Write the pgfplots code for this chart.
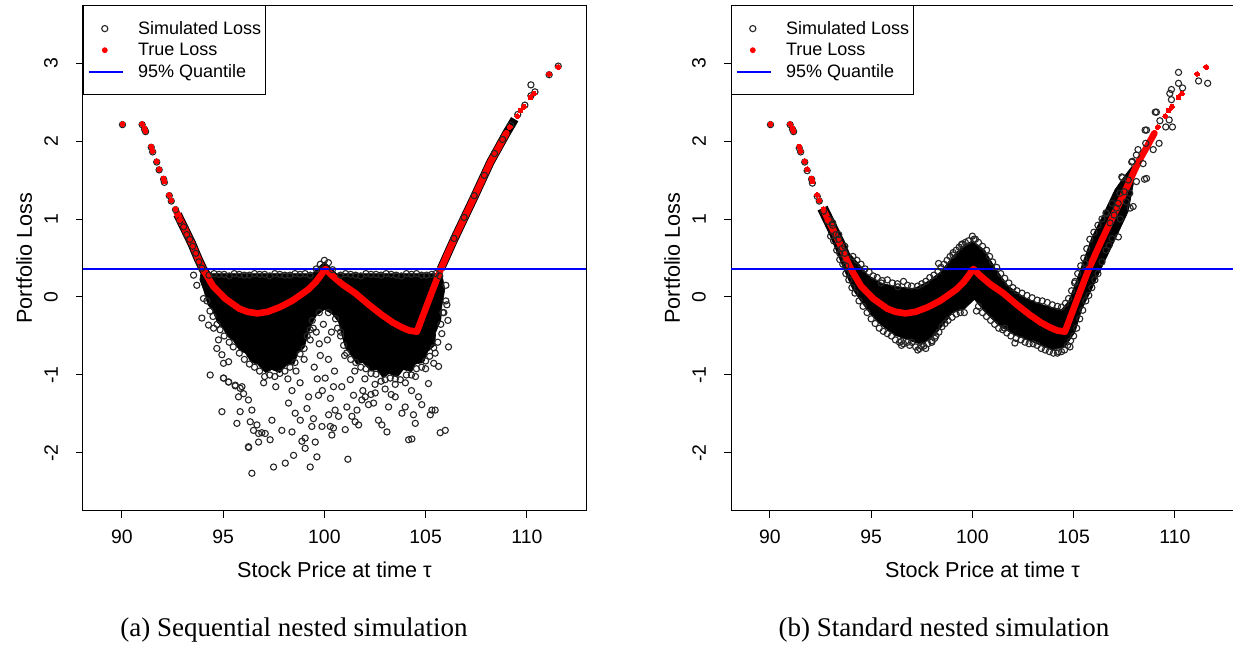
\documentclass[border=0pt]{standalone}
\usepackage{pgfplots}
\pgfplotsset{compat=1.18}
\usepackage{fontspec}
\setmainfont{Liberation Sans}
\newfontfamily\capfont{Liberation Serif}

\pgfplotsset{
  rplot/.style={
    scale only axis, width=251.5pt, height=252.7pt,
    xmin=88.08, xmax=112.92, ymin=-2.74, ymax=3.74,
    axis line style={black, line width=0.5pt},
    xtick={90,95,100,105,110}, xticklabels={90,95,100,105,110},
    ytick={-2,-1,0,1,2,3}, yticklabels={-2,-1,0,1,2,3},
    tick align=outside, xtick pos=left, ytick pos=left,
    major tick length=3.5pt,
    tick style={black, line width=0.5pt},
    ticklabel style={font=\fontsize{9.7}{11}\selectfont},
    xticklabel style={anchor=north, inner sep=0pt, yshift=-5.8pt},
    yticklabel style={xshift=-8.85pt, rotate=90, anchor=south, inner sep=0pt},
    label style={font=\fontsize{10.8}{12.5}\selectfont},
    xlabel={Stock Price at time τ},
    ylabel={Portfolio Loss},
    x label style={at={(axis description cs:0.5,0)}, anchor=base, yshift=-33.3pt},
    y label style={at={(axis description cs:-0.117,0.5)}, anchor=center},
    legend cell align=left,
    legend style={at={(0,1)}, anchor=north west, draw=black, line width=0.5pt,
      fill=white, inner xsep=2.3pt, inner ysep=6pt, row sep=0pt, column sep=4pt,
      font=\fontsize{9}{10.8}\selectfont, nodes={inner sep=0pt, anchor=base west}},
  },
  simstyle/.style={only marks, mark=o, mark size=1.55pt, mark options={draw=black!85, line width=0.55pt},
    legend image code/.code={\path[draw=none,fill=none] (0pt,-2.5pt) rectangle (20.5pt,8.3pt); \draw[black!85, line width=0.55pt, fill=none] (7.85pt,2.9pt) circle[radius=1.55pt];}},
  truestyle/.style={only marks, mark=*, mark size=1.2pt, mark options={draw=red, fill=red, line width=0pt},
    legend image code/.code={\path[draw=none,fill=none] (0pt,-2.5pt) rectangle (20.5pt,8.3pt); \fill[red] (7.85pt,2.9pt) circle[radius=1.2pt];}},
  qstyle/.style={blue, line width=1pt,
    legend image code/.code={\path[draw=none,fill=none] (0pt,-2.5pt) rectangle (20.5pt,8.3pt); \draw[blue, line width=1pt] (0pt,2.9pt) -- (16.7pt,2.9pt);}},
}

% True loss (shared by both panels)
\pgfplotstableread{
x y
92.7 1.09
92.88 0.99
93.2 0.82
93.46 0.68
93.75 0.5
94.0 0.36
94.5 0.14
95.1 -0.02
95.8 -0.15
96.2 -0.19
96.7 -0.21
97.2 -0.19
97.8 -0.13
98.4 -0.05
98.9 0.04
99.22 0.1
99.6 0.2
100.05 0.36
100.4 0.27
100.9 0.16
101.52 0.05
102.2 -0.1
102.84 -0.23
103.4 -0.33
103.83 -0.39
104.2 -0.43
104.57 -0.445
105.1 -0.08
105.75 0.36
106.39 0.73
107.38 1.27
108.2 1.73
108.99 2.1
}\trueline
\pgfplotstableread{
x y
90.03 2.22
91.0 2.22
91.12 2.16
91.17 2.13
91.45 1.93
91.52 1.87
91.72 1.74
91.84 1.64
92.06 1.52
92.1 1.48
92.34 1.31
92.44 1.24
92.65 1.13
92.86 0.99
109.16 2.18
109.52 2.32
109.69 2.39
109.85 2.44
110.18 2.56
110.35 2.61
111.1 2.86
111.55 2.95
}\truedots

\begin{document}
\begin{tikzpicture}
\useasboundingbox (0,0) rectangle (616.5pt,322pt);

% ---------------- (a) Sequential ----------------
\begin{axis}[rplot, at={(41.5pt,66.65pt)}, anchor=south west]
\addplot[fill=black, draw=black, line width=0.3pt, forget plot] coordinates {
(93.9,0.30)(99.4,0.30)(99.7,0.38)(100.0,0.45)(100.3,0.38)(100.6,0.30)(105.8,0.30)(105.95,0.1)(105.8,-0.12)(105.75,-0.3)(105.5,-0.45)(105.45,-0.62)(105.1,-0.7)(104.9,-0.84)(104.5,-0.86)(104.3,-0.96)(103.9,-0.93)(103.6,-1.03)(103.2,-0.98)(102.9,-1.04)(102.6,-0.93)(102.3,-0.95)(101.9,-0.84)(101.6,-0.86)(101.3,-0.74)(101.05,-0.66)(100.85,-0.48)(100.7,-0.32)(100.4,-0.22)(100.0,-0.16)(99.6,-0.24)(99.35,-0.36)(99.15,-0.52)(99.0,-0.65)(98.7,-0.72)(98.5,-0.86)(98.1,-0.88)(97.8,-0.97)(97.4,-0.93)(97.1,-0.97)(96.7,-0.86)(96.4,-0.84)(96.1,-0.72)(95.8,-0.68)(95.5,-0.56)(95.2,-0.5)(95.0,-0.4)(94.7,-0.32)(94.5,-0.18)(94.25,-0.1)(94.05,0.08)(93.85,0.22)
} -- cycle;
\addplot[simstyle] coordinates {
(90.03,2.21)(91.0,2.21)(91.12,2.15)(91.17,2.12)(91.45,1.92)(91.52,1.86)(91.72,1.73)(91.84,1.63)(92.06,1.51)(92.1,1.47)(92.34,1.30)(92.44,1.23)(92.65,1.12)(92.86,0.98)
(93.05,0.9)(93.2,0.8)(93.35,0.74)(93.5,0.65)(93.65,0.56)(93.8,0.45)(93.95,0.37)
(94.3,0.28)(94.8,0.29)(95.3,0.27)(95.8,0.29)(96.3,0.28)(96.8,0.29)(97.3,0.27)(97.8,0.29)(98.3,0.28)(98.8,0.29)(99.3,0.28)(100.8,0.28)(101.3,0.29)(101.8,0.27)(102.3,0.29)(102.8,0.28)(103.3,0.29)(103.8,0.27)(104.3,0.29)(104.8,0.28)(105.3,0.29)(105.7,0.27)
(94.55,0.3)(95.05,0.29)(95.55,0.3)(96.05,0.28)(96.55,0.3)(97.05,0.29)(97.55,0.3)(98.05,0.28)(98.55,0.3)(99.05,0.3)(101.05,0.3)(101.55,0.28)(102.05,0.3)(102.55,0.29)(103.05,0.3)(103.55,0.28)(104.05,0.3)(104.55,0.3)(105.05,0.28)(105.5,0.3)
(99.8,0.42)(100.0,0.47)(100.2,0.44)(99.6,0.36)(100.4,0.35)
(94.2,-0.05)(94.5,-0.25)(94.85,-0.42)(95.3,-0.58)(95.8,-0.72)(96.3,-0.86)(96.8,-0.95)(97.3,-1.0)(97.8,-0.98)(98.3,-0.9)(98.8,-0.73)(99.15,-0.5)(99.4,-0.3)(99.75,-0.2)(100.2,-0.2)(100.55,-0.28)(100.8,-0.5)(101.1,-0.72)(101.55,-0.84)(102.05,-0.92)(102.55,-0.99)(103.0,-1.06)(103.5,-1.05)(104.05,-1.0)(104.55,-0.92)(105.0,-0.82)(105.4,-0.65)(105.75,-0.35)(106.0,-0.05)
(94.35,-0.18)(94.7,-0.35)(95.05,-0.5)(95.5,-0.64)(96.05,-0.8)(96.55,-0.9)(97.05,-1.02)(97.55,-1.02)(98.05,-0.95)(98.55,-0.84)(99.0,-0.66)(99.3,-0.42)(100.65,-0.4)(100.95,-0.62)(101.3,-0.8)(101.8,-0.9)(102.3,-0.98)(102.8,-1.08)(103.25,-1.04)(103.75,-1.06)(104.3,-1.0)(104.8,-0.9)(105.2,-0.76)(105.6,-0.58)(105.85,-0.2)
(106.05,-0.10)(105.80,-0.47)(105.47,-0.72)(106.13,-0.64)(105.64,-0.89)(106.0,0.15)(106.1,-0.3)(105.9,-0.2)
(97.0,-1.1)(97.6,-1.15)(98.2,-1.05)(98.6,-0.95)(99.0,-0.8)(99.3,-0.55)(99.45,-0.4)(100.8,-0.45)(101.0,-0.75)(101.5,-0.95)(102.0,-1.05)(102.5,-1.12)(103.0,-1.18)(103.5,-1.12)(104.0,-1.1)(104.5,-1.02)(105.0,-0.92)(105.4,-0.85)(99.5,-0.9)(99.8,-0.75)(100.2,-0.8)(100.5,-0.95)(99.9,-1.2)(100.3,-1.3)
(99.6,-0.45)(99.75,-0.6)(100.15,-0.55)(100.35,-0.45)(99.95,-0.35)(99.65,-1.05)(100.45,-1.15)(98.8,-1.1)(98.4,-1.2)(101.9,-1.2)(102.3,-1.25)(103.3,-1.25)(104.3,-1.2)
(93.54,0.28)(93.70,0.15)(94.03,-0.02)(93.95,-0.27)(94.28,-0.36)(94.53,-0.40)(94.77,-0.55)(94.69,-0.66)(94.94,-0.74)(95.02,-0.85)(95.27,-0.83)(94.36,-1.00)(95.02,-1.04)(95.27,-1.09)(95.60,-1.13)(95.84,-1.17)(96.01,-1.24)(95.76,-1.28)(96.25,-1.32)(94.94,-1.47)(95.84,-1.47)(96.42,-1.45)(95.68,-1.62)(96.34,-1.60)(96.67,-1.64)(96.50,-1.71)(96.75,-1.86)(96.25,-1.92)(96.75,-1.75)
(95.02,-1.04)(95.27,-1.09)(95.60,-1.14)(95.93,-1.15)(96.26,-1.93)(96.42,-2.26)(96.91,-1.74)(97.08,-1.75)(97.32,-1.83)(97.41,-1.58)(97.49,-2.18)(97.90,-1.71)(98.07,-2.13)(98.23,-1.36)(98.40,-1.73)(98.48,-2.03)(98.56,-1.49)(98.81,-1.58)(98.89,-1.85)(99.05,-1.94)(99.05,-1.81)(99.14,-1.43)(99.22,-1.28)(99.30,-2.18)(99.38,-1.66)(99.46,-1.56)(99.55,-1.86)(99.63,-2.05)(99.71,-1.26)(99.88,-1.66)(100.04,-1.04)(100.21,-1.51)(100.29,-1.66)(100.37,-1.77)(100.45,-1.68)(100.53,-1.45)(100.70,-1.53)(100.86,-1.15)(101.03,-1.70)(101.11,-1.41)(101.16,-2.08)(101.28,-1.06)(101.36,-1.53)(101.44,-1.26)(101.52,-1.60)(101.61,-1.45)(101.69,-1.64)(101.85,-1.32)(102.02,-1.28)(102.18,-1.38)(102.43,-1.36)(102.51,-1.23)(102.67,-1.58)(102.84,-1.64)(103.09,-1.73)(103.17,-1.41)(103.50,-1.28)(103.83,-1.49)(103.99,-1.41)(104.16,-1.83)(104.32,-1.82)(104.40,-1.51)(104.49,-1.62)(104.65,-1.28)(104.81,-1.38)(105.14,-1.11)(105.23,-1.51)(105.31,-1.45)(105.47,-1.45)(105.72,-1.74)(105.97,-1.71)
(106.4,0.75)(106.9,1.02)(107.4,1.3)(107.9,1.56)(108.4,1.84)(108.8,2.02)(109.2,2.2)(109.55,2.34)(109.9,2.46)(110.2,2.58)(110.2,2.72)(110.4,2.63)(111.1,2.85)(111.55,2.96)
};
\addlegendentry{Simulated Loss}
\addplot[black, line width=4.4pt, forget plot] coordinates {(92.75,1.06)(92.88,0.99)(93.2,0.82)(93.46,0.68)(93.75,0.5)(94.0,0.36)(94.2,0.28)};
\addplot[black, line width=4.2pt, forget plot] coordinates {(105.75,0.36)(106.39,0.73)(107.38,1.27)(108.2,1.73)(108.99,2.1)(109.4,2.28)};
\addplot[red, line width=3.3pt, line join=round, line cap=round, forget plot] table[x=x,y=y] {\trueline};
\addplot[truestyle] table[x=x,y=y] {\truedots};
\addlegendentry{True Loss}
\addplot[qstyle] coordinates {(88.08,0.36)(112.92,0.36)};
\addlegendentry{95\% Quantile}
\end{axis}

% ---------------- (b) Standard ----------------
\begin{axis}[rplot, at={(365.5pt,66.65pt)}, anchor=south west]
\addplot[fill=black, draw=black, line width=0.3pt, forget plot] coordinates {
(92.9,0.98)(93.19,0.86)(93.85,0.58)(94.34,0.44)(94.84,0.28)(95.5,0.18)(96.24,0.13)(97.15,0.11)(97.81,0.2)(98.47,0.33)(98.96,0.5)(99.46,0.64)(100.0,0.72)(100.61,0.6)(101.1,0.38)(101.77,0.14)(102.59,-0.01)(103.58,-0.11)(104.4,-0.16)(104.74,-0.06)(105.07,0.16)(105.4,0.4)(105.89,0.76)(106.39,1.02)(107.05,1.38)(107.6,1.58)(107.9,1.68)
(107.95,1.45)(107.7,1.1)(107.05,0.74)(106.39,0.38)(105.89,0.1)(105.4,-0.16)(105.07,-0.45)(104.57,-0.64)(103.91,-0.68)(102.92,-0.57)(102.1,-0.49)(101.27,-0.36)(100.61,-0.19)(100.1,-0.03)(99.62,-0.15)(98.96,-0.21)(98.8,-0.28)(98.14,-0.49)(97.48,-0.61)(96.82,-0.55)(96.16,-0.49)(95.5,-0.36)(95.0,-0.23)(94.51,-0.06)(94.09,0.1)(93.6,0.39)(92.86,0.86)
} -- cycle;
\addplot[simstyle] coordinates {
(90.03,2.21)(91.0,2.21)(91.12,2.15)(91.17,2.12)(91.45,1.91)(91.52,1.86)(91.72,1.73)(91.84,1.62)(92.06,1.51)(92.1,1.46)(92.34,1.29)(92.44,1.23)(92.65,1.10)(92.86,0.97)
(92.95,0.99)(93.1,0.92)(93.25,0.8)(93.4,0.74)(93.55,0.62)(93.7,0.56)(93.15,0.72)(93.45,0.56)(93.75,0.4)
(93.1,0.95)(93.4,0.8)(93.7,0.65)(94.1,0.52)(94.5,0.42)(94.9,0.32)(95.3,0.25)(95.8,0.22)(96.3,0.17)(96.6,0.2)(97.0,0.14)(97.5,0.17)(97.9,0.25)(98.3,0.33)(98.6,0.42)(98.9,0.52)(99.2,0.6)(99.5,0.68)(99.8,0.72)(100.0,0.78)(100.3,0.7)(100.7,0.6)(101.0,0.45)(101.4,0.3)(101.8,0.18)(102.2,0.08)(102.7,0.02)(103.2,-0.04)(103.7,-0.07)(104.2,-0.12)(104.6,-0.08)(104.9,0.08)(105.2,0.3)(105.5,0.5)(105.8,0.74)(106.2,0.92)(106.6,1.08)
(94.3,0.47)(94.7,0.36)(95.1,0.27)(95.55,0.21)(96.05,0.18)(96.8,0.15)(97.3,0.14)(97.7,0.2)(98.1,0.28)(98.45,0.38)(98.75,0.47)(99.05,0.57)(99.35,0.64)(99.65,0.7)(100.15,0.74)(100.5,0.65)(100.85,0.52)(101.2,0.38)(101.6,0.24)(102.0,0.12)(102.45,0.05)(102.95,-0.01)(103.45,-0.05)(103.95,-0.1)(104.4,-0.13)(104.75,-0.02)(105.05,0.18)(105.35,0.4)(105.65,0.62)(106.0,0.83)(106.4,1.0)
(98.33,0.43)(99.46,0.67)(100.08,0.74)(99.04,0.54)(100.2,-0.18)(98.14,-0.53)(97.48,-0.63)(96.49,-0.57)(102.1,-0.59)(104.24,-0.70)(104.82,-0.64)(105.07,0.20)(105.56,0.43)(95.5,0.18)(96.32,0.13)(101.6,-0.40)
(93.0,0.78)(93.3,0.6)(93.6,0.42)(93.9,0.22)(94.2,0.05)(94.6,-0.12)(95.0,-0.28)(95.4,-0.4)(95.8,-0.47)(96.2,-0.55)(96.6,-0.6)(97.0,-0.58)(97.4,-0.66)(97.8,-0.6)(98.2,-0.5)(98.5,-0.38)(98.8,-0.3)(99.2,-0.22)(99.6,-0.2)(100.3,-0.12)(100.7,-0.25)(101.1,-0.35)(101.5,-0.42)(101.9,-0.5)(102.4,-0.55)(102.8,-0.6)(103.2,-0.62)(103.6,-0.68)(104.0,-0.72)(104.4,-0.7)(104.7,-0.62)(105.0,-0.5)(105.3,-0.28)(105.6,-0.05)(105.9,0.12)(106.2,0.3)(106.6,0.6)(106.9,0.75)
(93.45,0.48)(93.75,0.3)(94.05,0.12)(94.4,-0.05)(94.8,-0.2)(95.2,-0.34)(95.6,-0.44)(96.0,-0.5)(96.4,-0.58)(96.8,-0.58)(97.2,-0.64)(97.6,-0.63)(98.0,-0.56)(98.35,-0.45)(98.65,-0.34)(99.0,-0.26)(99.4,-0.2)(100.5,-0.2)(100.9,-0.3)(101.3,-0.4)(101.7,-0.46)(102.15,-0.53)(102.6,-0.58)(103.0,-0.6)(103.4,-0.66)(103.8,-0.7)(104.2,-0.72)(104.55,-0.68)(104.85,-0.56)(105.15,-0.4)(105.45,-0.17)(105.75,0.02)(106.05,0.22)(106.4,0.45)(106.75,0.66)
(96.9,-0.62)(97.3,-0.68)(97.7,-0.66)(96.5,-0.62)(98.0,-0.58)
(110.18,2.88)(110.18,2.74)(111.17,2.77)(111.62,2.74)(109.83,2.66)(109.75,2.61)(110.38,2.68)(109.83,2.53)(109.09,2.37)(109.26,2.26)(109.72,2.27)(109.55,2.18)(109.88,2.18)(108.6,2.14)(109.22,1.97)(108.93,1.89)(108.56,1.97)(108.18,1.89)(108.1,1.82)(107.9,1.74)(108.43,1.71)(108.6,1.52)(107.41,1.53)(108.1,1.48)(107.77,1.33)(107.28,1.33)(107.94,1.16)(107.11,1.14)(106.62,1.07)(108.53,2.14)(109.03,2.37)(108.5,1.51)(107.79,1.14)(107.21,0.77)(107.87,1.73)(107.38,1.54)
(106.8,0.95)(107.0,1.05)(107.2,1.2)(107.5,1.35)(107.6,1.22)(106.9,1.2)(107.3,1.0)(107.7,1.5)
};
\addlegendentry{Simulated Loss}
\addplot[black, line width=5.5pt, forget plot] coordinates {(92.6,1.14)(92.88,0.99)(93.2,0.82)(93.46,0.68)(93.75,0.5)};
\addplot[red, line width=3.3pt, line join=round, line cap=round, forget plot] table[x=x,y=y] {\trueline};
\addplot[truestyle] table[x=x,y=y] {\truedots};
\addlegendentry{True Loss}
\addplot[qstyle] coordinates {(88.08,0.36)(112.92,0.36)};
\addlegendentry{95\% Quantile}
\end{axis}

\node[font=\capfont\fontsize{13.5}{16}\selectfont, anchor=base] at (147pt,4pt) {(a) Sequential nested simulation};
\node[font=\capfont\fontsize{13.5}{16}\selectfont, anchor=base] at (472pt,4pt) {(b) Standard nested simulation};
\end{tikzpicture}
\end{document}
